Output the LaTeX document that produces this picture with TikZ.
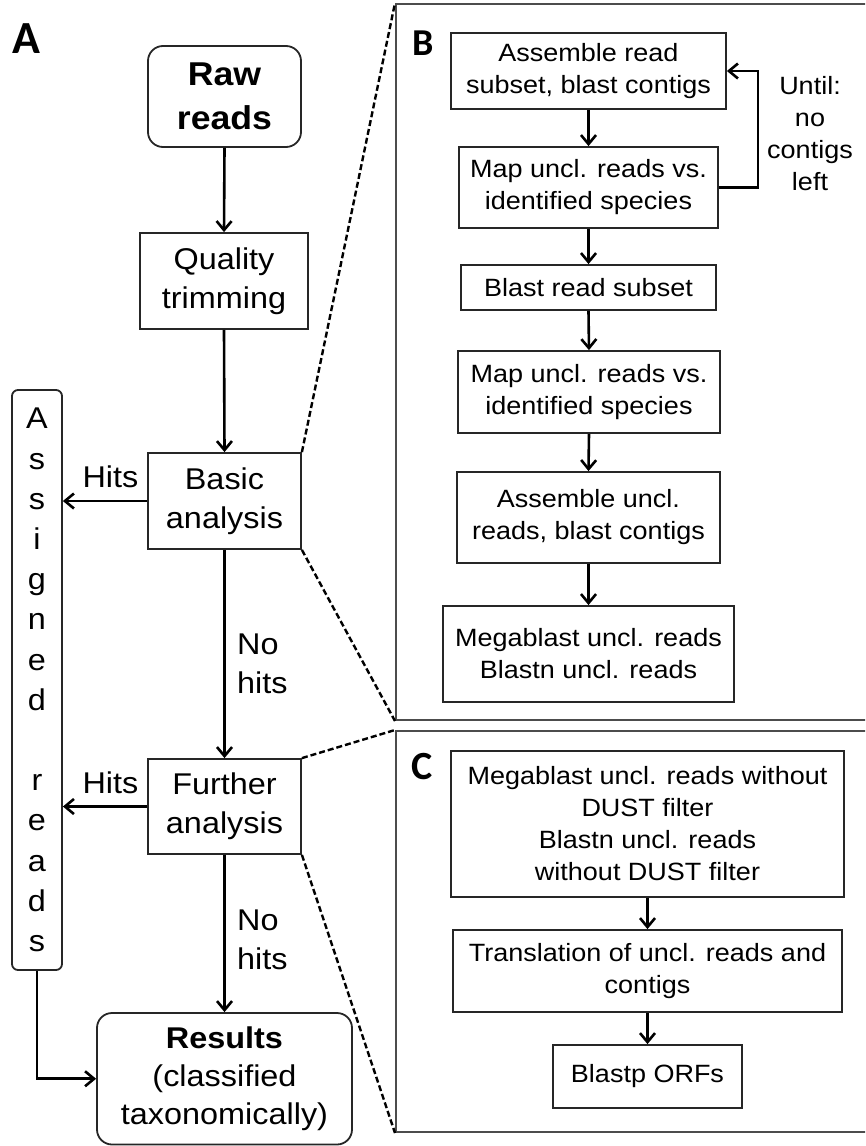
\documentclass[tikz,border=0pt]{standalone}
\usepackage{fontspec}
\setmainfont{Liberation Sans}[FakeStretch=1.08]
\newfontfamily\panelfont{Carlito}
\usetikzlibrary{arrows.meta}
\begin{document}
\begin{tikzpicture}[x=1pt,y=-1pt,
  box/.style={draw=black!85, line width=1.8pt, rectangle, inner sep=0pt, align=center},
  txtA/.style={font=\fontsize{30}{39}\selectfont},
  txtB/.style={font=\fontsize{25}{32}\selectfont},
  arr/.style={line width=2.6pt, -{Straight Barb[length=9pt,width=15pt]}},
  zoomline/.style={line width=2.4pt, dash pattern=on 6pt off 3pt},
  framebox/.style={draw=black!70, line width=2pt, rectangle, inner sep=0pt},
  lbl/.style={inner sep=0pt, align=center},
  panel/.style={inner sep=0pt, font=\panelfont\bfseries\fontsize{#1}{#1}\selectfont}
]
\useasboundingbox (0,0) rectangle (865,1146);
\clip (0,0) rectangle (865,1146);

% panel frames
\node[framebox, minimum width=484pt, minimum height=716pt] (frameB) at (638,362) {};
\node[framebox, minimum width=484pt, minimum height=401pt] (frameC) at (638,931.5) {};

% panel labels
\node[panel=46] (labA) at (26.5,39) {A};
\node[panel=38] (labB) at (423,43) {B};
\node[panel=40] (labC) at (422,767) {C};

% panel A
\node[box, rounded corners=15pt, minimum width=153pt, minimum height=101pt,
      font=\bfseries\fontsize{33}{44}\selectfont] (raw) at (224.5,96.5) {Raw\\reads};
\node[box, txtA, minimum width=168pt, minimum height=96pt] (qual) at (224,281) {Quality\\trimming};
\node[box, txtA, minimum width=153pt, minimum height=96pt] (basic) at (224.5,501) {Basic\\analysis};
\node[box, txtA, minimum width=153pt, minimum height=95pt] (further) at (224.5,806.5) {Further\\analysis};
\node[box, rounded corners=15pt, minimum width=255pt, minimum height=131.5pt,
      font=\fontsize{30}{38}\selectfont] (results) at (224.5,1078.75)
      {\textbf{Results}\\(classified\\taxonomically)};
\node[box, rounded corners=6pt, minimum width=50pt, minimum height=580pt,
      font=\fontsize{30}{40.2}\selectfont] (assigned) at (37,680)
      {A\\s\\s\\i\\g\\n\\e\\d\\[40.2pt]r\\e\\a\\d\\s};

\node[lbl, txtA, anchor=base] (hits1) at (110.5,487) {Hits};
\node[lbl, txtA, anchor=base] (hits2) at (110.5,793) {Hits};
\node[lbl, txtA, anchor=west, align=left] (nohits1) at (237,664) {No\\hits};
\node[lbl, txtA, anchor=west, align=left] (nohits2) at (237,940) {No\\hits};

\draw[arr] (raw.south) -- (qual.north);
\draw[arr] (qual.south) -- (basic.north);
\draw[arr] (basic.south) -- (further.north);
\draw[arr] (further.south) -- (results.north);
\draw[arr] (basic.west) -- (basic.west -| assigned.east);
\draw[arr] (further.west) -- (further.west -| assigned.east);
\draw[arr] (assigned.south) |- (results.west);

% zoom lines
\draw[zoomline] (basic.north east) -- (frameB.north west);
\draw[zoomline] (basic.south east) -- (frameB.south west);
\draw[zoomline] (further.north east) -- (frameC.north west);
\draw[zoomline] (further.south east) -- (frameC.south west);

% panel B
\node[box, txtB, minimum width=275pt, minimum height=76pt] (b1) at (588.5,71) {Assemble read\\subset, blast contigs};
\node[box, txtB, minimum width=259pt, minimum height=81pt] (b2) at (588.5,187.5) {Map uncl. reads vs.\\identified species};
\node[box, txtB, minimum width=255pt, minimum height=45pt] (b3) at (588.5,287.5) {Blast read subset};
\node[box, txtB, minimum width=262pt, minimum height=82pt] (b4) at (589,392) {Map uncl. reads vs.\\identified species};
\node[box, txtB, minimum width=263pt, minimum height=91pt] (b5) at (588.5,517.5) {Assemble uncl.\\reads, blast contigs};
\node[box, txtB, minimum width=291pt, minimum height=96pt] (b6) at (588.5,654) {Megablast uncl. reads\\Blastn uncl. reads};
\node[lbl, txtB] (until) at (810,134) {Until:\\no\\contigs\\left};

\draw[arr] (b1.south) -- (b2.north);
\draw[arr] (b2.south) -- (b3.north);
\draw[arr] (b3.south) -- (b4.north);
\draw[arr] (b4.south) -- (b5.north);
\draw[arr] (b5.south) -- (b6.north);
\draw[arr] (b2.east) -- ++(39,0) coordinate (loop) |- (b1.east);

% panel C
\node[box, txtB, minimum width=393pt, minimum height=146pt] (c1) at (647.5,824)
  {Megablast uncl. reads without\\DUST filter\\Blastn uncl. reads\\without DUST filter};
\node[box, txtB, minimum width=389pt, minimum height=82pt] (c2) at (647.5,971)
  {Translation of uncl. reads and\\contigs};
\node[box, txtB, minimum width=189pt, minimum height=63pt] (c3) at (647.5,1076.5) {Blastp ORFs};

\draw[arr] (c1.south) -- (c2.north);
\draw[arr] (c2.south) -- (c3.north);
\end{tikzpicture}
\end{document}
